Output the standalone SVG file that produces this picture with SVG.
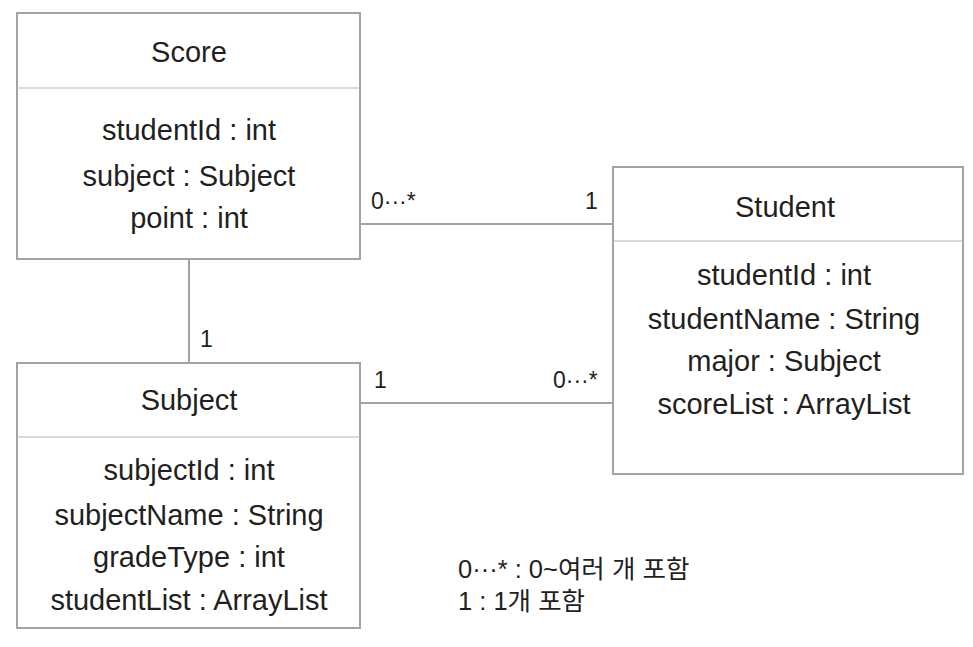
<svg xmlns="http://www.w3.org/2000/svg" width="973" height="647" viewBox="0 0 973 647">
<style>
.box{fill:#fff;stroke:#a3a3a3;stroke-width:2}
.div{stroke:#b5b5b5;stroke-width:1.2}
.conn{stroke:#a3a3a3;stroke-width:2;fill:none}
text{font-family:"Liberation Sans","Noto Sans CJK KR",sans-serif;fill:#231f20}
.t{font-size:29px;text-anchor:middle}
.a{font-size:29px;text-anchor:middle}
.m{font-size:23px}
.lg{font-size:25.5px;font-family:"Liberation Sans","Noto Sans CJK KR",sans-serif}
</style>
<rect width="973" height="647" fill="#fff"/>
<g id="connectors">
<line class="conn" x1="360" y1="224" x2="613" y2="224"/>
<line class="conn" x1="189" y1="259" x2="189" y2="363"/>
<line class="conn" x1="360" y1="403" x2="613" y2="403"/>
<text class="m" x="371" y="209">0···*</text>
<text class="m" x="585" y="209">1</text>
<text class="m" x="200" y="347">1</text>
<text class="m" x="374" y="388">1</text>
<text class="m" x="553" y="388">0···*</text>
</g>
<g id="score">
<rect class="box" x="17" y="13" width="343" height="246"/>
<line class="div" x1="17" y1="88" x2="360" y2="88"/>
<text class="t" x="189" y="62">Score</text>
<text class="a" x="189" y="140">studentId : int</text>
<text class="a" x="189" y="186">subject : Subject</text>
<text class="a" x="189" y="228">point : int</text>
</g>
<g id="student">
<rect class="box" x="613" y="167" width="350" height="307"/>
<line class="div" x1="613" y1="241" x2="963" y2="241"/>
<text class="t" x="785" y="217">Student</text>
<text class="a" x="784" y="285">studentId : int</text>
<text class="a" x="784" y="329">studentName : String</text>
<text class="a" x="784" y="371">major : Subject</text>
<text class="a" x="784" y="414">scoreList : ArrayList</text>
</g>
<g id="subject">
<rect class="box" x="17" y="363" width="343" height="265"/>
<line class="div" x1="17" y1="437" x2="360" y2="437"/>
<text class="t" x="189" y="410">Subject</text>
<text class="a" x="189" y="480">subjectId : int</text>
<text class="a" x="189" y="525">subjectName : String</text>
<text class="a" x="189" y="567">gradeType : int</text>
<text class="a" x="189" y="610">studentList : ArrayList</text>
</g>
<g id="legend">
<text class="lg" x="458" y="578">0···* : 0~여러 개 포함</text>
<text class="lg" x="458" y="610">1 : 1개 포함</text>
</g>
</svg>
